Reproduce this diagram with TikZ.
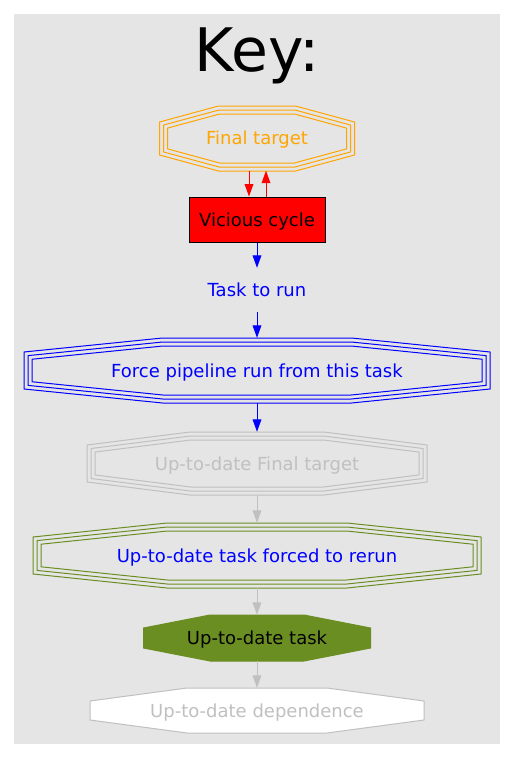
\documentclass[tikz,border=0pt]{standalone}
\usepackage{fontspec}
\setmainfont{DejaVu Sans}
\usetikzlibrary{arrows.meta}
\definecolor{bggray}{HTML}{E5E5E5}
\definecolor{olived}{HTML}{6B8E23}
\definecolor{orangec}{HTML}{FFA500}
\definecolor{silverc}{HTML}{C0C0C0}
% ring: style, x, y, W, H, a, b, d
\newcommand{\octring}[8]{%
 \pgfmathsetmacro{\oL}{veclen(#5-#7,#4-#6)}%
 \pgfmathsetmacro{\oW}{#4-#8}%
 \pgfmathsetmacro{\oH}{#5-#8}%
 \pgfmathsetmacro{\oA}{#6+#8*(#4-#6-\oL)/(#5-#7)}%
 \pgfmathsetmacro{\oB}{#7+#8*(#5-#7-\oL)/(#4-#6)}%
 \draw[#1,shift={(#2,#3)}] (-\oA,-\oH) -- (\oA,-\oH) -- (\oW,-\oB) -- (\oW,\oB) -- (\oA,\oH) -- (-\oA,\oH) -- (-\oW,\oB) -- (-\oW,-\oB) -- cycle;}
\newcommand{\octtriple}[7]{%
 \octring{#1}{#2}{#3}{#4}{#5}{#6}{#7}{0}%
 \octring{#1}{#2}{#3}{#4}{#5}{#6}{#7}{4}%
 \octring{#1}{#2}{#3}{#4}{#5}{#6}{#7}{8}}
\begin{document}
\begin{tikzpicture}[x=1pt,y=-1pt,
  lab/.style={draw=none,inner sep=0pt,font=\fontsize{18}{21}\selectfont,text height=13.1pt,text depth=0pt},
  shp/.style={line width=1pt},
  arr/.style={line width=1pt,-{Triangle[length=12.5pt,width=8.75pt]}}]
\useasboundingbox (0,0) rectangle (514,768);
\fill[bggray] (14,14) rectangle (500,744);
\node[font=\fontsize{60}{72}\selectfont,text height=43.7pt,text depth=0pt,inner sep=0pt] (key) at (257,50) {Key:};
% shapes
\octtriple{shp,orangec}{257}{138.5}{97.5}{32.5}{38.5}{16.5}
\octtriple{shp,blue}{257}{370.5}{233}{32.5}{94.5}{18.5}
\octtriple{shp,silverc}{257}{463.5}{170}{31.5}{67}{18.5}
\octtriple{shp,olived}{257}{555.5}{224}{32.5}{90}{18.5}
\octring{shp,draw=olived,fill=olived}{257}{638}{113.5}{23}{47}{10}{0}
\octring{shp,draw=silverc,fill=white}{257}{710.5}{167}{22.5}{70}{9.5}{0}
% nodes
\node[lab,text=orangec,minimum width=195pt,minimum height=65pt] (ft) at (257,138) {Final target};
\node[lab,draw=black,fill=red,line width=1pt,minimum width=136pt,minimum height=45pt] (vc) at (257,219.5) {Vicious cycle};
\node[lab,text=blue,minimum width=120pt,minimum height=44pt] (task) at (257,290) {Task to run};
\node[lab,text=blue,minimum width=466pt,minimum height=65pt] (force) at (257,370.5) {Force pipeline run from this task};
\node[lab,text=silverc,minimum width=340pt,minimum height=63pt] (utdft) at (257,463.5) {Up-to-date Final target};
\node[lab,text=blue,minimum width=448pt,minimum height=65pt] (forced) at (257,555.5) {Up-to-date task forced to rerun};
\node[lab,text=black,minimum width=227pt,minimum height=46pt] (utdtask) at (257,638) {Up-to-date task};
\node[lab,text=silverc,minimum width=334pt,minimum height=45pt] (dep) at (257,710.5) {Up-to-date dependence};
% connectors
\draw[arr,red] ([xshift=-8pt]ft.south) -- ([xshift=-8pt]vc.north);
\draw[arr,red] ([xshift=9pt]vc.north) -- ([xshift=9pt]ft.south);
\draw[arr,blue] (vc) -- (task);
\draw[arr,blue] (task) -- (force);
\draw[arr,blue] (force) -- (utdft);
\draw[arr,silverc] (utdft) -- (forced);
\draw[arr,silverc] (forced) -- (utdtask);
\draw[arr,silverc] (utdtask) -- (dep);
\end{tikzpicture}
\end{document}
